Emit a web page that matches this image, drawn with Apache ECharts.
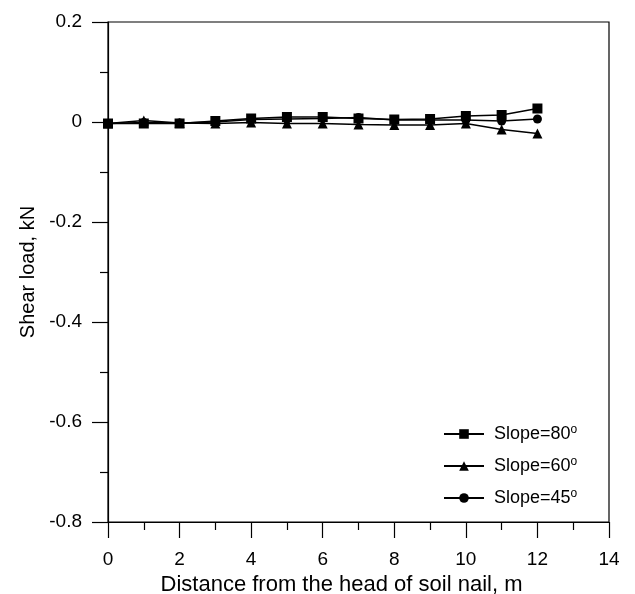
<!DOCTYPE html>
<html>
<head>
<meta charset="utf-8">
<script src="https://cdn.jsdelivr.net/npm/echarts@6/dist/echarts.min.js"></script>
<style>html,body{margin:0;padding:0;background:#fff;}#c{width:635px;height:594px;}</style>
</head>
<body>
<div id="c"></div>
<script>
var xValues = [0, 1, 2, 3, 4, 5, 6, 7, 8, 9, 10, 11, 12];
var slope80 = [-0.003, -0.003, -0.003, 0.002, 0.007, 0.010, 0.010, 0.007, 0.005, 0.006, 0.012, 0.014, 0.027];
var slope60 = [-0.003, 0.003, -0.002, -0.003, -0.001, -0.003, -0.003, -0.005, -0.006, -0.006, -0.003, -0.015, -0.023];
var slope45 = [-0.003, -0.001, -0.002, 0.000, 0.005, 0.006, 0.007, 0.009, 0.004, 0.004, 0.004, 0.002, 0.006];
var seriesNames = ['Slope=80', 'Slope=60', 'Slope=45'];
var xTicks = [0, 2, 4, 6, 8, 10, 12, 14];
var yTicks = [-0.8, -0.6, -0.4, -0.2, 0, 0.2];

function pairs(vals) { return xValues.map(function (x, i) { return [x, vals[i]]; }); }

var chart = echarts.init(document.getElementById('c'), null, {renderer: 'canvas'});
var font = 'Liberation Sans, Arial, sans-serif';
function mkSeries(name, data, symbol, size) {
  return {
    name: name, type: 'line', data: pairs(data), symbol: symbol, symbolSize: size,
    lineStyle: {color: '#000', width: 1.5}, itemStyle: {color: '#000'},
    animation: false
  };
}
chart.setOption({
  backgroundColor: '#fff',
  animation: false,
  grid: {left: 108, right: 26, top: 22, bottom: 72, show: true, borderColor: '#000', borderWidth: 1.2,
    backgroundColor: 'transparent', containLabel: false, outerBoundsMode: 'none'},
  legend: {
    orient: 'vertical', left: 443, top: 424, padding: 0, itemWidth: 40, itemHeight: 12, itemGap: 13,
    data: seriesNames,
    formatter: function (n) { return '{a|' + n + '}{s|o}'; },
    textStyle: {
      color: '#000', fontFamily: font, fontSize: 18,
      rich: {
        a: {fontSize: 18, fontFamily: font, color: '#000', lineHeight: 20, padding: [0, 0, 0, 5]},
        s: {fontSize: 12, fontFamily: font, color: '#000', lineHeight: 12, verticalAlign: 'top'}
      }
    }
  },
  xAxis: {
    type: 'value', min: 0, max: 14, interval: 2,
    name: 'Distance from the head of soil nail, m', nameLocation: 'middle', nameGap: 44,
    nameTextStyle: {fontFamily: font, fontSize: 22, color: '#000', padding: [0, 34, 0, 0]},
    axisLine: {show: true, onZero: false, lineStyle: {color: '#000', width: 1.2}},
    axisTick: {show: true, inside: false, length: 16, lineStyle: {color: '#000', width: 1.2}},
    minorTick: {show: true, splitNumber: 2, length: 8, lineStyle: {color: '#000', width: 1.2}},
    axisLabel: {fontFamily: font, fontSize: 19, color: '#000', margin: 28,
      formatter: function (v) { return xTicks.indexOf(v) >= 0 ? String(v) : ''; }},
    splitLine: {show: false}
  },
  yAxis: {
    type: 'value', min: -0.8, max: 0.2, interval: 0.2,
    name: 'Shear load, kN', nameLocation: 'middle', nameGap: 70,
    nameTextStyle: {fontFamily: font, fontSize: 20, color: '#000'},
    axisLine: {show: true, onZero: false, lineStyle: {color: '#000', width: 1.2}},
    axisTick: {show: true, inside: false, length: 16, lineStyle: {color: '#000', width: 1.2}},
    minorTick: {show: true, splitNumber: 2, length: 8, lineStyle: {color: '#000', width: 1.2}},
    axisLabel: {fontFamily: font, fontSize: 19, color: '#000', margin: 26,
      formatter: function (v) {
        var r = Math.round(v * 10) / 10;
        return r === 0 ? '0' : r.toFixed(1);
      }},
    splitLine: {show: false}
  },
  series: [
    mkSeries(seriesNames[0], slope80, 'rect', 10),
    mkSeries(seriesNames[1], slope60, 'triangle', 10),
    mkSeries(seriesNames[2], slope45, 'circle', 9)
  ]
});
</script>
</body>
</html>
